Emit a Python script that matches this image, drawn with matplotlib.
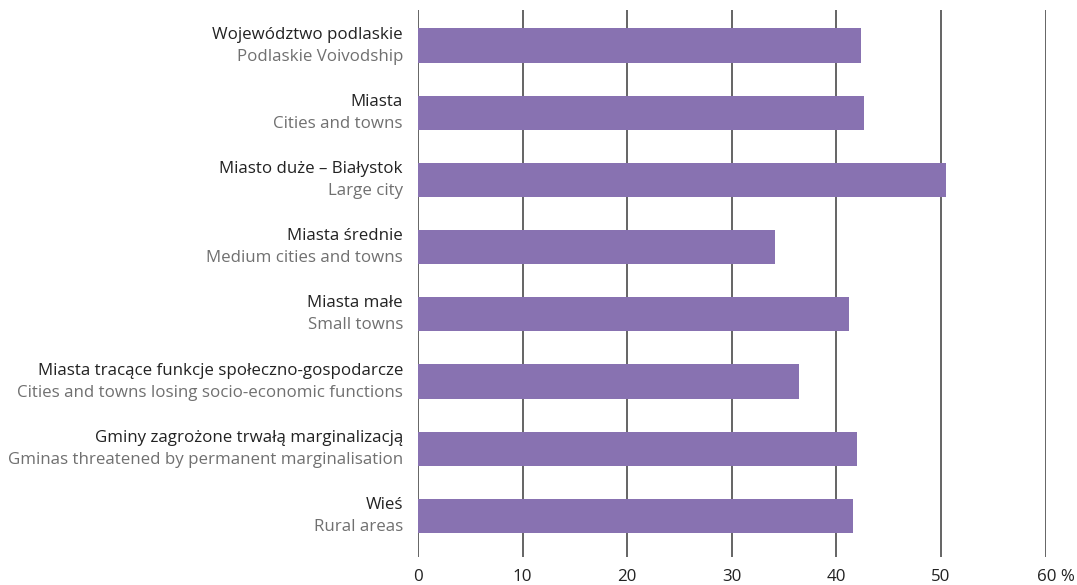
import matplotlib.pyplot as plt
import matplotlib.transforms as mtransforms

# *******************
# Data
# *******************
labels_pl = [
    "Województwo podlaskie",
    "Miasta",
    "Miasto duże – Białystok",
    "Miasta średnie",
    "Miasta małe",
    "Miasta tracące funkcje społeczno-gospodarcze",
    "Gminy zagrożone trwałą marginalizacją",
    "Wieś",
]
labels_en = [
    "Podlaskie Voivodship",
    "Cities and towns",
    "Large city",
    "Medium cities and towns",
    "Small towns",
    "Cities and towns losing socio-economic functions",
    "Gminas threatened by permanent marginalisation",
    "Rural areas",
]
values = [42.3, 42.6, 50.5, 34.1, 41.2, 36.4, 42.0, 41.6]
xticks = [0, 10, 20, 30, 40, 50, 60]
xtick_labels = ["0", "10", "20", "30", "40", "50", "60 %"]

BAR_COLOR = "#8872b1"
FONT = ["Open Sans", "DejaVu Sans"]
FS = 12.2

plt.rcParams["font.family"] = FONT

fig = plt.figure(figsize=(10.77, 5.85), dpi=100)
ax = fig.add_axes([0.388, 0.048, 0.583, 0.935])

pos = list(range(len(values)))
ax.barh(pos, values, height=0.51, color=BAR_COLOR, zorder=3)

for x in xticks:
    ax.axvline(x, color="#3a3a3a", lw=1.1, zorder=1)

ax.set_xlim(0, 60)
ax.set_ylim(7.61, -0.53)

for s in ax.spines.values():
    s.set_visible(False)

ax.set_yticks([])
ax.set_xticks(xticks)
ax.set_xticklabels(xtick_labels, fontsize=FS, color="#222222")
ax.tick_params(axis="x", length=0, pad=9)

# shift the "60 %" label so the number sits on its line
last = ax.get_xticklabels()[-1]
last.set_transform(last.get_transform() +
                   mtransforms.ScaledTranslation(10 / 100, 0, fig.dpi_scale_trans))

# two-line category labels: Polish on top, English below
for i, (pl, en) in enumerate(zip(labels_pl, labels_en)):
    tr_top = mtransforms.offset_copy(ax.get_yaxis_transform(), fig=fig, x=-15, y=11, units="dots")
    tr_bot = mtransforms.offset_copy(ax.get_yaxis_transform(), fig=fig, x=-15, y=-11, units="dots")
    ax.text(0, i, pl, transform=tr_top, ha="right", va="center",
            fontsize=FS, color="#222222")
    ax.text(0, i, en, transform=tr_bot, ha="right", va="center",
            fontsize=FS, color="#707070")

fig.savefig("out.png", dpi=100)
